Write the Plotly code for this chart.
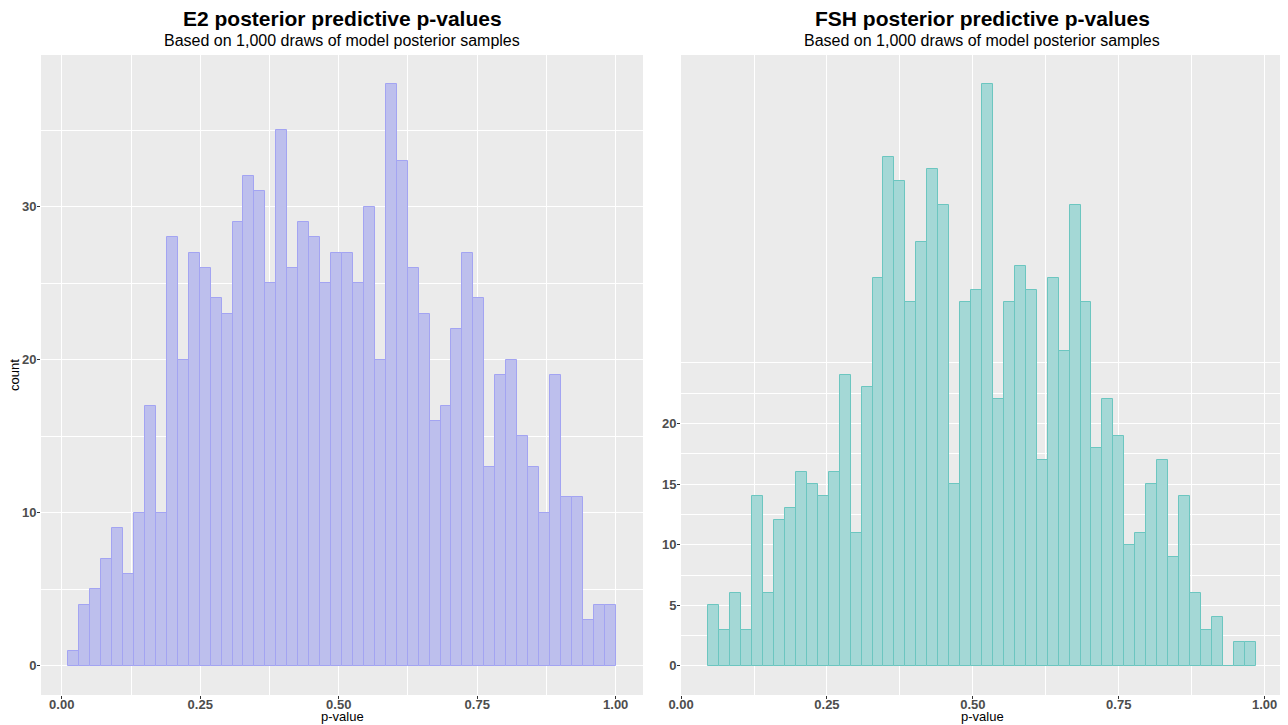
import plotly.graph_objects as go

# ---- data ----
e2_counts = [1, 4, 5, 7, 9, 6, 10, 17, 10, 28,
             20, 27, 26, 24, 23, 29, 32, 31, 25, 35,
             26, 29, 28, 25, 27, 27, 25, 30, 20, 38,
             33, 26, 23, 16, 17, 22, 27, 24, 13, 19,
             20, 15, 13, 10, 19, 11, 11, 3, 4, 4]
e2_bin_start = 0.0119
e2_bin_width = 0.01976

fsh_counts = [5, 3, 6, 3, 14, 6, 12, 13, 16, 15,
              14, 16, 24, 11, 23, 32, 42, 40, 30, 35,
              41, 38, 15, 30, 31, 48, 22, 30, 33, 31,
              17, 32, 26, 38, 30, 18, 22, 19, 10, 11,
              15, 17, 9, 14, 6, 3, 4, 0, 2, 2]
fsh_bin_start = 0.0468
fsh_bin_width = 0.018756

x_ticks = [0.0, 0.25, 0.5, 0.75, 1.0]
x_ticklabels = ["0.00", "0.25", "0.50", "0.75", "1.00"]
x_minor = [0.125, 0.375, 0.625, 0.875]
e2_yticks = [0, 10, 20, 30]
e2_yminor = [5, 15, 25, 35]
fsh_yticks = [0, 5, 10, 15, 20]
fsh_yminor = [2.5, 7.5, 12.5, 17.5, 22.5, 25]

titles = ["E2 posterior predictive p-values", "FSH posterior predictive p-values"]
subtitle = "Based on 1,000 draws of model posterior samples"

# page body has an 8px margin; size the figure so it fills the 1288x725 window
OFF = 8
W, H = 1288 - OFF, 725 - OFF
FONT = "Liberation Sans, Arial, sans-serif"


def px(x):
    return (x - OFF) / W


def py(y):
    return 1 - (y - OFF) / H


def centers(start, width, n):
    return [start + width * (i + 0.5) for i in range(n)]


def xrange_of(start, width, n):
    span = width * n
    return [start - 0.05 * span, start + span + 0.05 * span]


def yrange_of(counts):
    m = max(counts)
    return [-0.05 * m, m * 1.05]


fig = go.Figure()
fig.add_trace(go.Bar(
    x=centers(e2_bin_start, e2_bin_width, len(e2_counts)), y=e2_counts,
    width=e2_bin_width, marker=dict(color="#BDBFED", line=dict(color="#A3A4F2", width=1)),
    xaxis="x", yaxis="y", showlegend=False, hoverinfo="x+y"))
fig.add_trace(go.Bar(
    x=centers(fsh_bin_start, fsh_bin_width, len(fsh_counts)), y=fsh_counts,
    width=fsh_bin_width, marker=dict(color="#A4D8D6", line=dict(color="#6CC6C0", width=1)),
    xaxis="x2", yaxis="y2", showlegend=False, hoverinfo="x+y"))

ydom = [py(695), py(55)]
tickfont = dict(family=FONT, size=13, color="#4D4D4D", weight="bold")

common_x = dict(tickmode="array", tickvals=x_ticks, ticktext=x_ticklabels,
                ticks="outside", ticklen=3, tickcolor="#333333", tickwidth=1,
                ticklabelstandoff=-6,
                showgrid=True, gridcolor="white", gridwidth=1.1, zeroline=False,
                showline=False, tickfont=tickfont, automargin=False,
                minor=dict(tickmode="array", tickvals=x_minor, showgrid=True,
                           gridcolor="white", gridwidth=0.5, ticks=""))


def yaxis_cfg(anchor, counts, ticks, minor):
    return dict(domain=ydom, anchor=anchor, range=yrange_of(counts),
                tickmode="array", tickvals=ticks,
                ticks="outside", ticklen=3, tickcolor="#333333", tickwidth=1,
                ticklabelstandoff=-2,
                showgrid=True, gridcolor="white", gridwidth=1.1, zeroline=False,
                tickfont=tickfont, automargin=False,
                minor=dict(tickmode="array", tickvals=minor, showgrid=True,
                           gridcolor="white", gridwidth=0.5, ticks=""))


fig.update_layout(
    template="none",
    width=W, height=H, margin=dict(l=0, r=0, t=0, b=0, pad=0),
    paper_bgcolor="white", plot_bgcolor="#EBEBEB", bargap=0,
    font=dict(family=FONT),
    xaxis=dict(domain=[px(41), px(643)], anchor="y",
               range=xrange_of(e2_bin_start, e2_bin_width, len(e2_counts)), **common_x),
    xaxis2=dict(domain=[px(681), px(1283)], anchor="y2",
                range=xrange_of(fsh_bin_start, fsh_bin_width, len(fsh_counts)), **common_x),
    yaxis=yaxis_cfg("x", e2_counts, e2_yticks, e2_yminor),
    yaxis2=yaxis_cfg("x2", fsh_counts, fsh_yticks, fsh_yminor),
)

centers_px = [(41 + 643) / 2, (681 + 1283) / 2]
ann = []
for cx, t in zip(centers_px, titles):
    ann.append(dict(text=f"<b>{t}</b>", x=px(cx), y=py(18), xref="paper", yref="paper",
                    xanchor="center", yanchor="middle", showarrow=False,
                    font=dict(family=FONT, size=21, color="black")))
    ann.append(dict(text=subtitle, x=px(cx), y=py(40), xref="paper", yref="paper",
                    xanchor="center", yanchor="middle", showarrow=False,
                    font=dict(family=FONT, size=16, color="black")))
    ann.append(dict(text="p-value", x=px(cx), y=py(716), xref="paper", yref="paper",
                    xanchor="center", yanchor="middle", showarrow=False,
                    font=dict(family=FONT, size=13, color="black")))
ann.append(dict(text="count", x=px(15), y=py(375), xref="paper", yref="paper",
                xanchor="center", yanchor="middle", showarrow=False, textangle=-90,
                font=dict(family=FONT, size=13, color="black")))
fig.update_layout(annotations=ann)

fig.write_html("out.html")
